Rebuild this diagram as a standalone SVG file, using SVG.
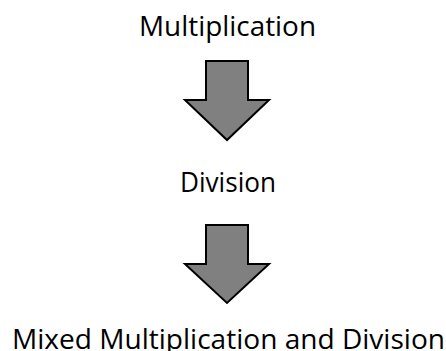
<svg xmlns="http://www.w3.org/2000/svg" width="446" height="351" viewBox="0 0 446 351">
<style>
.t{font-family:"Open Sans","Noto Sans",sans-serif;font-size:26.5px;fill:#000}
.a{fill:#808080;stroke:#000;stroke-width:2;stroke-linejoin:miter}
</style>
<rect width="446" height="351" fill="#fff"/>
<g id="n1"><text class="t" x="139" y="36" textLength="177" lengthAdjust="spacingAndGlyphs">Multiplication</text></g>
<g id="n2"><text class="t" x="180" y="192" textLength="96" lengthAdjust="spacingAndGlyphs">Division</text></g>
<g id="n3"><text class="t" x="12" y="349" textLength="433" lengthAdjust="spacingAndGlyphs">Mixed Multiplication and Division</text></g>
<g id="connectors">
<path class="a" d="M206,61 H248 V100 H269 L227,140 L185,100 H206 Z"/>
<path class="a" d="M206,225 H248 V264 H269 L227,303 L185,264 H206 Z"/>
</g>
</svg>
